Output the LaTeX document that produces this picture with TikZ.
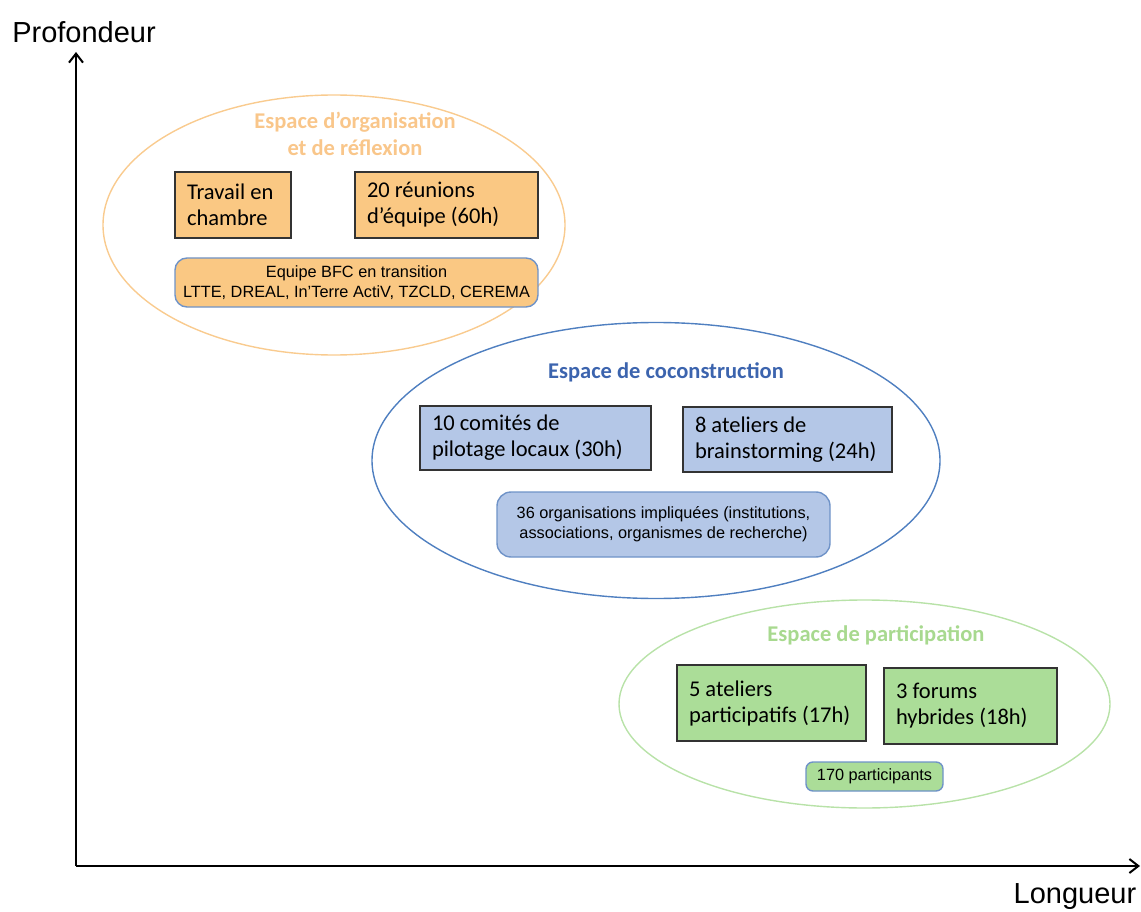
\documentclass[tikz,border=0pt]{standalone}
\usepackage{fontspec}
\setmainfont{Liberation Sans}
\newfontfamily\calib{Carlito}
\usetikzlibrary{shapes.geometric,arrows.meta}
\definecolor{orfill}{HTML}{FAC883}
\definecolor{orline}{HTML}{F9CB8F}
\definecolor{ortitle}{HTML}{F9C68A}
\definecolor{blfill}{HTML}{B4C7E7}
\definecolor{blline}{HTML}{4F7FC0}
\definecolor{bltitle}{HTML}{3C64AE}
\definecolor{grfill}{HTML}{ABDD98}
\definecolor{grline}{HTML}{B8E2A8}
\definecolor{grtitle}{HTML}{A8D98F}
\definecolor{rbline}{HTML}{6F93C8}
\definecolor{boxline}{HTML}{333333}
\tikzset{
  space/.style={ellipse, draw, line width=1.4pt, inner sep=0pt},
  sptitle/.style={font=\calib\bfseries\fontsize{22.5}{27}\selectfont, align=center, inner sep=0pt},
  actbox/.style={draw=boxline, line width=1.5pt, inner xsep=12pt, inner ysep=0pt,
    font=\calib\fontsize{22.5}{26}\selectfont, align=flush left, anchor=center},
  actorbox/.style={draw=rbline, line width=1.4pt, rounded corners=12pt, inner sep=0pt,
    font=\fontsize{16.3}{20}\selectfont, align=center},
  axis/.style={line width=2.6pt, -{Straight Barb[length=9pt,width=14pt,line width=2pt]}},
  axlabel/.style={font=\fontsize{29}{32}\selectfont, inner sep=0pt}
}
\begin{document}
\begin{tikzpicture}[x=1pt,y=-1pt]
\useasboundingbox (0,0) rectangle (1141,912);
% axes
\coordinate (o) at (76,866);
\coordinate (ytip) at (76,52);
\coordinate (xtip) at (1140,866);
\draw[axis] (o) -- (ytip);
\draw[axis] (o) -- (xtip);
\node[axlabel] (yl) at (84,32) {Profondeur};
\node[axlabel] (xl) at (1075,897) {Longueur};

% organisation space
\node[space, draw=orline, minimum width=462pt, minimum height=260pt] (e1) at (334,225) {};
\node[sptitle, text=ortitle] (t1) at (355,134) {Espace d’organisation\\et de réflexion};
\node[actbox, fill=orfill, text width=92pt, minimum height=66pt] (b1) at (233,205) {Travail en\\chambre};
\node[actbox, fill=orfill, text width=159pt, minimum height=66pt] (b2) at (446.5,205) {20 réunions\\d’équipe (60h)};
\node[actorbox, fill=orfill, minimum width=363pt, minimum height=49pt] (r1) at (356.5,282.5) {Equipe BFC en transition\\LTTE, DREAL, In’Terre ActiV, TZCLD, CEREMA};

% coconstruction space
\node[space, draw=blline, minimum width=568pt, minimum height=276pt] (e2) at (656,460.5) {};
\node[sptitle, text=bltitle] (t2) at (666,372) {Espace de coconstruction};
\node[actbox, fill=blfill, text width=207pt, minimum height=64pt] (b3) at (535.5,438) {10 comités de\\pilotage locaux (30h)};
\node[actbox, fill=blfill, text width=185pt, minimum height=65pt] (b4) at (787.5,439.5) {8 ateliers de\\brainstorming (24h)};
\node[actorbox, fill=blfill, rounded corners=14pt, minimum width=333pt, minimum height=65pt] (r2) at (663.5,524.5) {36 organisations impliquées (institutions,\\associations, organismes de recherche)};

% participation space
\node[space, draw=grline, minimum width=491pt, minimum height=208pt] (e3) at (864.5,704) {};
\node[sptitle, text=grtitle] (t3) at (876,635) {Espace de participation};
\node[actbox, fill=grfill, text width=165pt, minimum height=76pt] (b5) at (771.5,703) {5 ateliers\\participatifs (17h)};
\node[actbox, fill=grfill, text width=149pt, minimum height=76pt] (b6) at (970.5,706) {3 forums\\hybrides (18h)};
\node[actorbox, fill=grfill, rounded corners=7pt, minimum width=137pt, minimum height=29pt] (r3) at (874.5,776.5) {170 participants};
\end{tikzpicture}
\end{document}
